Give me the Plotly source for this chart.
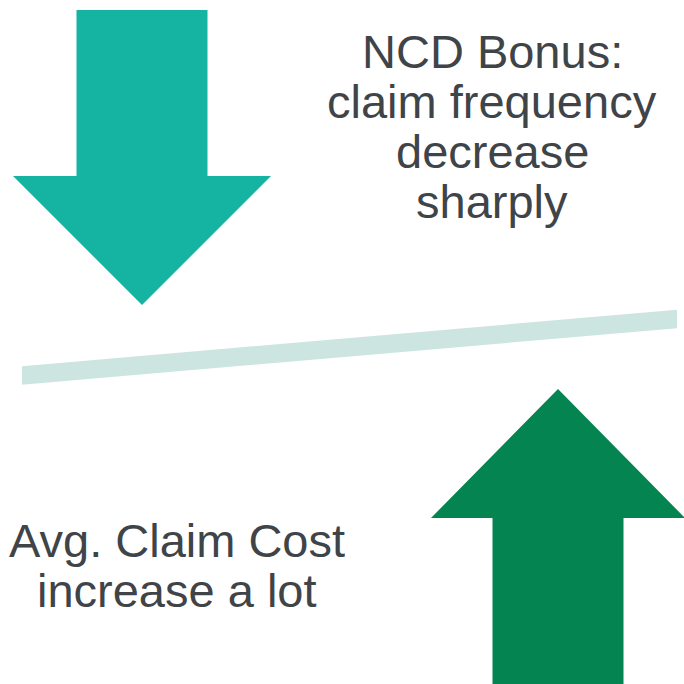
import plotly.graph_objects as go

# arrows: tip (x, y), head half-width, head length, shaft half-width, tail y
arrow_names = ["NCD Bonus", "Avg. Claim Cost"]
arrow_tip_x = [142, 558]
arrow_tip_y = [305, 389]
arrow_head_half = [129, 127]
arrow_head_len = [129, 129]
arrow_shaft_half = [65.5, 65.5]
arrow_tail_y = [10, 700]
arrow_colors = ["#14b3a2", "#038450"]

# balance beam: left/right end centres and thickness
beam_x = [22, 677]
beam_y = [375.5, 319]
beam_thick = 18.5

# text blocks
top_lines = ["NCD Bonus:", "claim frequency", "decrease", "sharply"]
top_center_x = 492
top_first_y = 51
bottom_lines = ["Avg. Claim Cost", "increase a lot"]
bottom_center_x = 177
bottom_first_y = 540
line_gap = 50


def arrow_polygon(tx, ty, hh, hl, sh, tail):
    d = 1 if tail < ty else -1  # +1 means arrow points down (tail above)
    base = ty - d * hl
    xs = [tx - sh, tx + sh, tx + sh, tx + hh, tx, tx - hh, tx - sh, tx - sh]
    ys = [tail, tail, base, base, ty, base, base, tail]
    return xs, ys


fig = go.Figure()

fig.add_trace(
    go.Scatter(
        x=[beam_x[0], beam_x[1], beam_x[1], beam_x[0], beam_x[0]],
        y=[
            beam_y[0] - beam_thick / 2,
            beam_y[1] - beam_thick / 2,
            beam_y[1] + beam_thick / 2,
            beam_y[0] + beam_thick / 2,
            beam_y[0] - beam_thick / 2,
        ],
        fill="toself",
        fillcolor="#cde5e0",
        line=dict(width=0),
        mode="lines",
        hoverinfo="skip",
    )
)

for i, name in enumerate(arrow_names):
    xs, ys = arrow_polygon(
        arrow_tip_x[i],
        arrow_tip_y[i],
        arrow_head_half[i],
        arrow_head_len[i],
        arrow_shaft_half[i],
        arrow_tail_y[i],
    )
    fig.add_trace(
        go.Scatter(
            x=xs,
            y=ys,
            fill="toself",
            fillcolor=arrow_colors[i],
            line=dict(width=0),
            mode="lines",
            name=name,
            hoverinfo="skip",
        )
    )

text_font = dict(family="Liberation Sans, Arial, sans-serif", size=47, color="#3f4448")
for lines, cx, y0 in [
    (top_lines, top_center_x, top_first_y),
    (bottom_lines, bottom_center_x, bottom_first_y),
]:
    for k, txt in enumerate(lines):
        fig.add_annotation(
            x=cx,
            y=y0 + k * line_gap,
            text=txt,
            showarrow=False,
            xanchor="center",
            yanchor="middle",
            font=text_font,
        )

fig.update_layout(
    width=684,
    height=684,
    margin=dict(l=0, r=0, t=0, b=0),
    paper_bgcolor="white",
    plot_bgcolor="white",
    showlegend=False,
    xaxis=dict(range=[0, 684], visible=False, fixedrange=True),
    yaxis=dict(range=[684, 0], visible=False, fixedrange=True),
)

# drop the default page margin so the figure fills the window exactly
fig.write_html(
    "out.html",
    config={"displayModeBar": False},
    post_script="document.body.style.margin='0';document.body.style.overflow='hidden';",
)
